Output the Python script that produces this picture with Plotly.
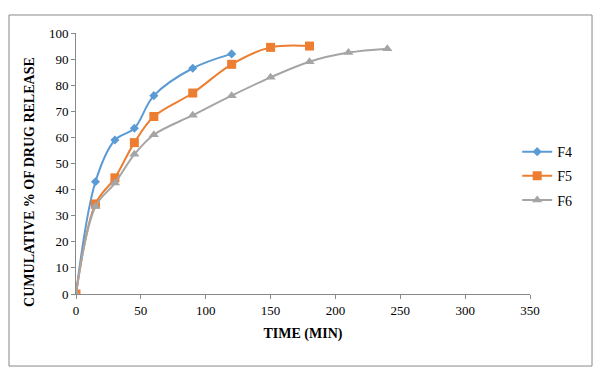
import plotly.graph_objects as go

t_f4 = [0, 15, 30, 45, 60, 90, 120]
f4 = [0, 43, 59, 63.5, 76, 86.5, 92]
t_f5 = [0, 15, 30, 45, 60, 90, 120, 150, 180]
f5 = [0, 34.5, 44.5, 58, 68, 77, 88, 94.5, 95]
t_f6 = [0, 15, 30, 45, 60, 90, 120, 150, 180, 210, 240]
f6 = [0, 33.5, 42.5, 53.5, 61, 68.5, 76, 83, 89, 92.5, 94]

x_ticks = [0, 50, 100, 150, 200, 250, 300, 350]
y_ticks = [0, 10, 20, 30, 40, 50, 60, 70, 80, 90, 100]

FONT = "Liberation Serif"
fig = go.Figure()
fig.add_trace(go.Scatter(x=t_f4, y=f4, name="F4", legendgroup="F4", mode="lines+markers",
                         line=dict(color="#5B9BD5", width=2, shape="spline", smoothing=1),
                         marker=dict(symbol="diamond", size=7, color="#5B9BD5")))
fig.add_trace(go.Scatter(x=t_f5, y=f5, name="F5", legendgroup="F5", mode="lines+markers",
                         line=dict(color="#ED7D31", width=2, shape="spline", smoothing=1),
                         marker=dict(symbol="square", size=9, color="#ED7D31")))
fig.add_trace(go.Scatter(x=t_f6, y=f6, name="F6", legendgroup="F6", mode="lines+markers",
                         line=dict(color="#A5A5A5", width=2, shape="spline", smoothing=1),
                         marker=dict(symbol="triangle-up", size=9, color="#A5A5A5")))

fig.update_layout(
    width=600, height=377,
    paper_bgcolor="white", plot_bgcolor="white",
    margin=dict(l=76, r=70, t=33, b=83, autoexpand=False),
    font=dict(family=FONT, size=13, color="#000"),
    legend=dict(xref="container", yref="container", x=0.862, y=0.533,
                xanchor="left", yanchor="middle",
                font=dict(family=FONT, size=14), tracegroupgap=3,
                itemwidth=30, bgcolor="rgba(0,0,0,0)"),
    xaxis=dict(range=[0, 350], tickvals=x_ticks, showgrid=False, zeroline=False,
               showline=True, linecolor="#898989", linewidth=1, automargin=False,
               ticks="outside", ticklen=4, tickcolor="#898989",
               tickfont=dict(family=FONT, size=13),
               title=dict(text="<b>TIME (MIN)</b>", font=dict(family=FONT, size=14), standoff=11)),
    yaxis=dict(range=[0, 100], tickvals=y_ticks, showgrid=False, zeroline=False,
               showline=True, linecolor="#898989", linewidth=1, automargin=False,
               ticks="outside", ticklen=4, tickcolor="#898989",
               tickfont=dict(family=FONT, size=13)),
    annotations=[dict(text="<b>CUMULATIVE % OF DRUG RELEASE</b>", xref="paper", yref="paper",
                      x=-0.101, y=0.43, xanchor="center", yanchor="middle", textangle=-90,
                      showarrow=False, font=dict(family=FONT, size=14))],
    shapes=[dict(type="rect", xref="paper", yref="paper",
                 x0=-0.1476, x1=1.1366, y0=-0.276, y1=1.069,
                 line=dict(color="#898989", width=1), fillcolor="rgba(0,0,0,0)")],
)
fig.write_html("out.html", config={"displayModeBar": False},
               post_script="document.body.style.margin='0';")
